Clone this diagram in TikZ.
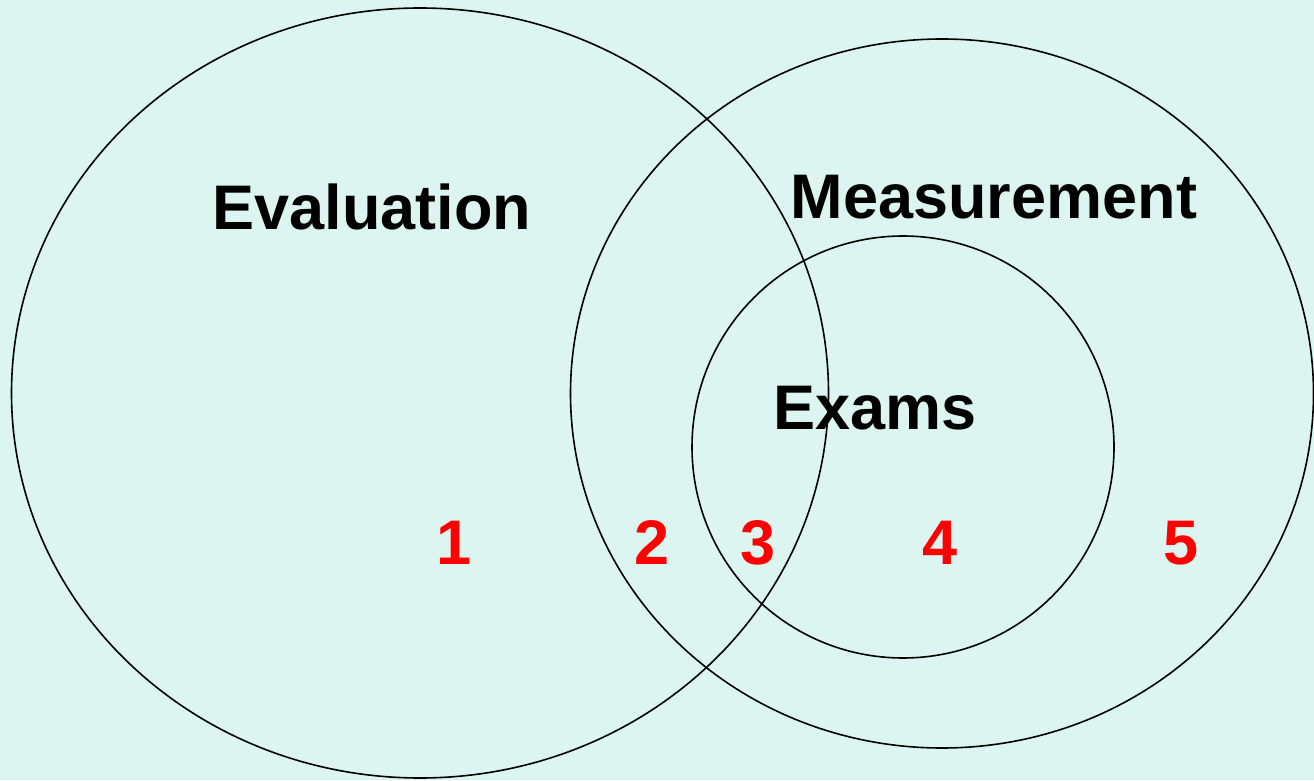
\documentclass[tikz,border=0pt]{standalone}
\usepackage{fontspec}
\setmainfont{Liberation Sans}
\definecolor{paper}{RGB}{220,245,240}
\definecolor{numred}{RGB}{255,0,0}
\begin{document}
\begin{tikzpicture}[x=1pt,y=1pt,
  setline/.style={draw=black,line width=1.6pt},
  setlabel/.style={font=\fontsize{63}{70}\selectfont\bfseries,text=black,inner sep=0pt,anchor=base},
  region/.style={font=\fontsize{63}{70}\selectfont\bfseries,text=numred,inner sep=0pt,anchor=base}]
  % background
  \fill[paper] (0,0) rectangle (1314,780);
  \useasboundingbox (0,0) rectangle (1314,780);
  % the three sets
  \draw[setline] (420,387) ellipse [x radius=408.5, y radius=385];
  \draw[setline] (942,386.5) ellipse [x radius=371.5, y radius=354.5];
  \draw[setline] (903,333) ellipse [x radius=211, y radius=211];
  % set names
  \node[setlabel] (eval) at (372,550) {Evaluation};
  \node[setlabel] (meas) at (994,561) {Measurement};
  \node[setlabel] (exam) at (875,350) {Exams};
  % region numbers
  \node[region] (r1) at (454,216) {1};
  \node[region] (r2) at (652,216) {2};
  \node[region] (r3) at (758,216) {3};
  \node[region] (r4) at (940,216) {4};
  \node[region] (r5) at (1181,216) {5};
\end{tikzpicture}
\end{document}
